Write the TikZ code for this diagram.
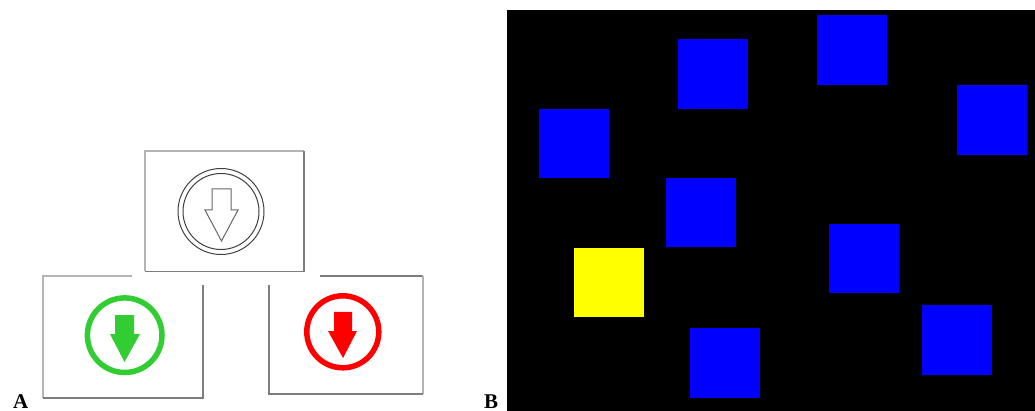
\documentclass[tikz,border=0pt]{standalone}
\usepackage{fontspec}
\setmainfont{Liberation Serif}
\definecolor{arrowgreen}{RGB}{50,205,50}
\definecolor{framedark}{RGB}{125,125,125}
\definecolor{framelight}{RGB}{180,180,180}
\definecolor{pureyellow}{RGB}{255,255,0}
\definecolor{pureblue}{RGB}{0,0,255}
\definecolor{purered}{RGB}{255,0,0}
\newcommand{\arrowshape}[7]{% shaft left, shaft right, top, neck, head left, head right, tip y
  (#1,#3) -- (#2,#3) -- (#2,#4) -- (#6,#4) -- ({(#1+#2)/2},#7) -- (#5,#4) -- (#1,#4) -- cycle}
\tikzset{
  panel/.style={fill=pureblue,draw=none},
  target/.style={fill=pureyellow,draw=none},
  darkedge/.style={draw=framedark,line width=1.1pt},
  lightedge/.style={draw=framelight,line width=1.1pt},
  paneltag/.style={font=\bfseries\fontsize{21}{21}\selectfont,inner sep=0pt,anchor=base west},
  thinring/.style={draw=black!75,line width=1pt},
}
\begin{document}
\begin{tikzpicture}[x=1pt,y=-1pt]
\useasboundingbox (0,0) rectangle (1035,411);
\clip (0,0) rectangle (1035,411);
\fill[white] (0,0) rectangle (1035,411);
% panel B
\fill[black] (507,10) rectangle (1035,411);
\foreach \x/\y/\h in {678/39/70,817/15/70,957/85/70,539/109/69,666/178/69,829/224/69,922/305/70,690/328/70}
  \path[panel] (\x,\y) rectangle ++(70,\h);
\path[target] (574,248) rectangle ++(70,69);
% top box
\draw[lightedge] (145,271) -- (145,151) -- (304,151);
\draw[darkedge] (304,151) -- (304,271.5) -- (145,271.5);
\draw[thinring] (221,211.5) circle (43);
\draw[thinring] (221,211.5) circle (38);
\draw[draw=black!60,line width=1pt] \arrowshape{212}{231}{189}{210}{205}{238}{241};
% green box
\draw[lightedge] (132,276) -- (43,276) -- (43,398);
\draw[darkedge] (43,398) -- (203,398) -- (203,285);
\draw[arrowgreen,line width=5.5pt] (124.7,335.2) circle (37.3);
\fill[arrowgreen] \arrowshape{115}{134}{315}{334}{110}{140}{362};
% red box
\draw[framedark,line width=1.1pt] (320,276) -- (423,276);
\draw[lightedge] (423,276) -- (423,394);
\draw[darkedge] (423,394) -- (269,394) -- (269,285);
\draw[purered,line width=5.5pt] (342.8,331.8) circle (36);
\fill[purered] \arrowshape{334}{352}{312}{331}{328}{357}{358};
% labels
\node[paneltag] (labelA) at (13,408) {A};
\node[paneltag] (labelB) at (484,408) {B};
\end{tikzpicture}
\end{document}
